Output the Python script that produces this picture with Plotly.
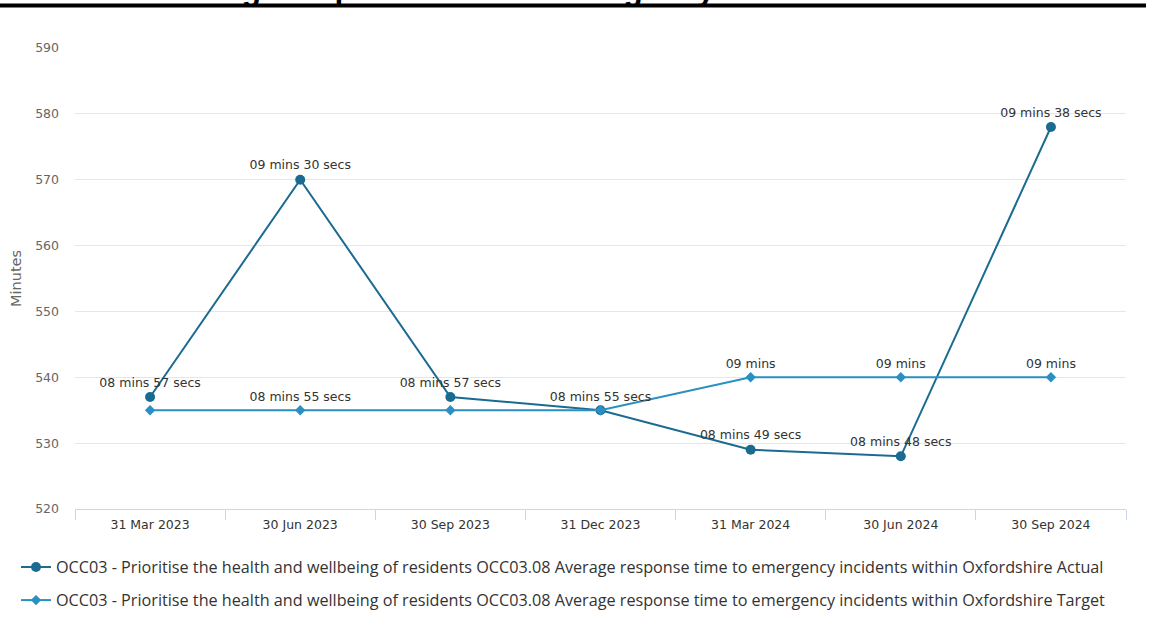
import plotly.graph_objects as go

categories = ["31 Mar 2023", "30 Jun 2023", "30 Sep 2023", "31 Dec 2023",
              "31 Mar 2024", "30 Jun 2024", "30 Sep 2024"]
actual_secs = [537, 570, 537, 535, 529, 528, 578]
target_secs = [535, 535, 535, 535, 540, 540, 540]
actual_label_shown = [True, True, True, False, True, True, True]
target_label_shown = [False, True, False, True, True, True, True]

actual_name = ("OCC03 - Prioritise the health and wellbeing of residents OCC03.08 Average "
               "response time to emergency incidents within Oxfordshire Actual")
target_name = ("OCC03 - Prioritise the health and wellbeing of residents OCC03.08 Average "
               "response time to emergency incidents within Oxfordshire Target")
title_text = "OCC03.08 Average response time to emergency incidents within Oxfordshire"


def fmt(v):
    m, s = divmod(int(v), 60)
    if s == 0:
        return f"{m:02d} mins"
    return f"{m:02d} mins {s:02d} secs"


actual_text = [fmt(v) if sh else "" for v, sh in zip(actual_secs, actual_label_shown)]
target_text = [fmt(v) if sh else "" for v, sh in zip(target_secs, target_label_shown)]

W, H = 1172, 630
ML, MR, MT, MB = 75, 46, 48, 121
PW, PH = W - ML - MR, H - MT - MB


def px2x(px):
    return (px - ML) / PW


def px2y(py):
    return 1 - (py - MT) / PH


ACT = "#1b6b91"
TGT = "#2b8fc2"
FONT = "DejaVu Sans"

fig = go.Figure()
fig.add_trace(go.Scatter(
    x=categories, y=actual_secs, name=actual_name, mode="lines+markers+text",
    line=dict(color=ACT, width=2), marker=dict(symbol="circle", size=10, color=ACT),
    text=actual_text, textposition="top center",
    textfont=dict(family=FONT, size=12.5, color="#333333"),
    legendgroup="a",
))
fig.add_trace(go.Scatter(
    x=categories, y=target_secs, name=target_name, mode="lines+markers+text",
    line=dict(color=TGT, width=2), marker=dict(symbol="diamond", size=8, color=TGT),
    text=target_text, textposition="top center",
    textfont=dict(family=FONT, size=12.5, color="#333333"),
    legendgroup="t",
))

fig.add_annotation(
    text="<b>" + title_text + "</b>", xref="paper", yref="paper",
    x=px2x(-3), y=px2y(9), xanchor="left", yanchor="bottom", showarrow=False,
    font=dict(family="Liberation Sans", size=31.5, color="#000000"),
)
fig.add_shape(type="line", xref="paper", yref="paper",
              x0=px2x(0), x1=px2x(1146), y0=px2y(5.5), y1=px2y(5.5),
              line=dict(color="#000000", width=4))

fig.update_layout(
    width=W, height=H, margin=dict(l=ML, r=MR, t=MT, b=MB),
    paper_bgcolor="white", plot_bgcolor="white",
    font=dict(family=FONT, size=12, color="#666666"),
    showlegend=True,
    legend=dict(
        orientation="v", x=px2x(16), xanchor="left", y=px2y(550), yanchor="top",
        font=dict(family="Open Sans", size=16.2, color="#333333"),
        traceorder="grouped", tracegroupgap=9, bgcolor="rgba(0,0,0,0)",
    ),
    xaxis=dict(
        type="category", range=[-0.5, 6.5], showgrid=False,
        showline=True, linecolor="#ccd6eb", linewidth=1,
        ticks="outside", tickson="boundaries", ticklen=10, tickcolor="#ccd6eb",
        ticklabelstandoff=4,
        tickfont=dict(family=FONT, size=12.5, color="#333333"), fixedrange=True,
    ),
    yaxis=dict(
        range=[520, 590], dtick=10, showgrid=True, gridcolor="#e6e6e6", gridwidth=1,
        zeroline=False, showline=False, ticks="", ticklabelstandoff=15,
        tickfont=dict(family=FONT, size=12.5, color="#666666"),
        title=dict(text="Minutes", font=dict(family=FONT, size=14.5, color="#666666"), standoff=10),
    ),
)

fig.write_html("out.html")
